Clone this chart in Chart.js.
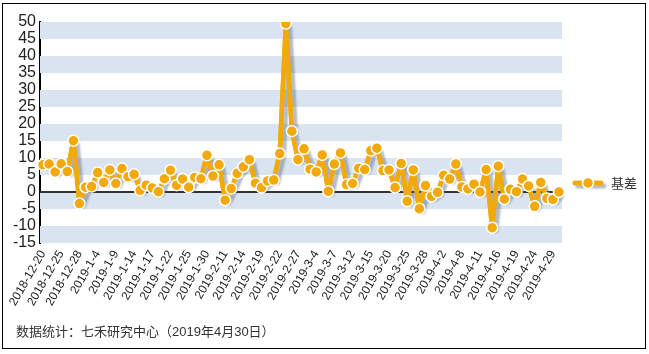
<!DOCTYPE html>
<html><head><meta charset="utf-8">
<script src="https://cdn.jsdelivr.net/npm/chart.js@4"></script>
<style>
html,body{margin:0;padding:0;background:#fff;}
#wrap{position:relative;width:649px;height:354px;}
#frame{position:absolute;left:2px;top:3px;width:644px;height:346px;box-sizing:border-box;border:1px solid #000;pointer-events:none;}
#c{position:absolute;left:0;top:0;}
#caption{position:absolute;left:16px;top:321px;font:13px "Liberation Sans","Noto Sans CJK SC",sans-serif;color:#333;white-space:nowrap;}
</style></head>
<body>
<div id="wrap">
<canvas id="c" width="649" height="354"></canvas>
<div id="frame"></div>
<div id="caption">数据统计：七禾研究中心（2019年4月30日）</div>
</div>
<script>
const dates = [
 '2018-12-20','2018-12-21','2018-12-24','2018-12-25','2018-12-26','2018-12-27','2018-12-28',
 '2019-1-2','2019-1-3','2019-1-4','2019-1-7','2019-1-8','2019-1-9','2019-1-10','2019-1-11','2019-1-14','2019-1-15','2019-1-16','2019-1-17','2019-1-18','2019-1-21','2019-1-22','2019-1-23','2019-1-24','2019-1-25','2019-1-28','2019-1-29','2019-1-30','2019-1-31',
 '2019-2-1','2019-2-11','2019-2-12','2019-2-13','2019-2-14','2019-2-15','2019-2-18','2019-2-19','2019-2-20','2019-2-21','2019-2-22','2019-2-25','2019-2-26','2019-2-27','2019-2-28',
 '2019-3-1','2019-3-4','2019-3-5','2019-3-6','2019-3-7','2019-3-8','2019-3-11','2019-3-12','2019-3-13','2019-3-14','2019-3-15','2019-3-18','2019-3-19','2019-3-20','2019-3-21','2019-3-22','2019-3-25','2019-3-26','2019-3-27','2019-3-28','2019-3-29',
 '2019-4-1','2019-4-2','2019-4-3','2019-4-4','2019-4-8','2019-4-9','2019-4-10','2019-4-11','2019-4-12','2019-4-15','2019-4-16','2019-4-17','2019-4-18','2019-4-19','2019-4-22','2019-4-23','2019-4-24','2019-4-25','2019-4-26','2019-4-29','2019-4-30'
];
const basis = [
 8.0, 8.2, 5.9, 8.3, 6.0, 15.1, -3.4, 1.4, 1.6, 5.7,
 2.8, 6.5, 2.5, 6.9, 4.5, 5.2, 0.5, 2.0, 1.2, 0.1,
 3.9, 6.4, 2.0, 3.8, 1.4, 4.3, 3.9, 10.8, 4.7, 8.0,
 -2.4, 1.0, 5.5, 7.4, 9.5, 2.6, 1.3, 3.2, 3.5, 11.3,
 49.5, 17.9, 9.5, 12.7, 6.7, 5.9, 10.9, 0.2, 8.2, 11.5,
 2.2, 2.5, 7.0, 6.6, 12.2, 12.9, 6.3, 6.5, 1.3, 8.4,
 -2.7, 6.5, -4.9, 1.9, -1.3, -0.1, 4.9, 3.8, 8.2, 1.5,
 0.9, 2.3, 0.0, 6.6, -10.5, 7.6, -2.1, 0.8, 0.1, 3.8,
 1.8, -4.2, 2.8, -1.9, -2.2, 0.0
];
const seriesName = '基差';
const yMin = -15, yMax = 50, yStep = 5;
const labelEvery = 3;

const ORANGE = '#f2a90c';
const BAND = '#d9e4f0';
const TEXT = '#222';

const bandsPlugin = {
  id: 'bands',
  beforeDatasetsDraw(chart) {
    const {ctx, chartArea, scales: {y}} = chart;
    ctx.save();
    ctx.fillStyle = BAND;
    for (let v = yMax; v > yMin; v -= 2 * yStep) {
      const t = y.getPixelForValue(v), b = y.getPixelForValue(v - yStep);
      ctx.fillRect(chartArea.left, t, chartArea.right - chartArea.left, b - t);
    }
    const z = y.getPixelForValue(0);
    ctx.strokeStyle = '#333';
    ctx.lineWidth = 2;
    ctx.beginPath();
    ctx.moveTo(chartArea.left, z);
    ctx.lineTo(chartArea.right, z);
    ctx.stroke();
    ctx.restore();
  }
};

const shadowPlugin = {
  id: 'shadow',
  beforeDatasetDraw(chart, args) {
    if (args.index === 1) {
      const ctx = chart.ctx;
      ctx.save();
      ctx.shadowColor = 'rgba(90,105,125,0.45)';
      ctx.shadowOffsetX = 4;
      ctx.shadowOffsetY = 3;
      ctx.shadowBlur = 2;
    }
  },
  afterDatasetDraw(chart, args) {
    if (args.index === 1) chart.ctx.restore();
  }
};

const legendPlugin = {
  id: 'customLegend',
  afterDraw(chart) {
    const {ctx, chartArea} = chart;
    const ds = chart.data.datasets[0];
    const x0 = chartArea.right + 13, yc = 183;
    ctx.save();
    ctx.shadowColor = 'rgba(90,105,125,0.45)';
    ctx.shadowOffsetX = 3; ctx.shadowOffsetY = 3; ctx.shadowBlur = 2;
    ctx.strokeStyle = ds.borderColor; ctx.lineWidth = 5; ctx.lineCap = 'round';
    ctx.beginPath(); ctx.moveTo(x0, yc); ctx.lineTo(x0 + 26, yc); ctx.stroke();
    ctx.restore();
    ctx.save();
    ctx.fillStyle = ds.pointBackgroundColor; ctx.strokeStyle = '#fff'; ctx.lineWidth = 1.5;
    ctx.beginPath(); ctx.arc(x0 + 13, yc, 5.5, 0, Math.PI * 2); ctx.fill(); ctx.stroke();
    ctx.fillStyle = '#333';
    ctx.font = '13px "Noto Sans CJK SC", sans-serif';
    ctx.textBaseline = 'middle';
    ctx.fillText(ds.label, x0 + 36, yc);
    ctx.restore();
  }
};

new Chart(document.getElementById('c'), {
  type: 'line',
  data: {
    labels: dates,
    datasets: [
      {
        label: seriesName, data: basis,
        borderColor: ORANGE, borderWidth: 4.5, borderJoinStyle: 'round', borderCapStyle: 'round',
        pointBackgroundColor: ORANGE, pointBorderColor: '#fff',
        pointBorderWidth: 1.5, pointRadius: 5.5, tension: 0
      },
      {
        label: seriesName + '_shadow', data: basis,
        borderColor: ORANGE, borderWidth: 4.5, borderJoinStyle: 'round', borderCapStyle: 'round',
        pointRadius: 0, tension: 0
      }
    ]
  },
  options: {
    responsive: false,
    animation: false,
    events: [],
    layout: { padding: { left: 0, top: 22, right: 87, bottom: 0 } },
    plugins: { legend: { display: false }, tooltip: { enabled: false } },
    scales: {
      x: {
        offset: true,
        grid: { display: false, drawTicks: false },
        border: { display: false },
        afterFit(s) { s.height = 111; },
        ticks: {
          autoSkip: false, maxRotation: 60, minRotation: 60, padding: 5,
          color: TEXT, font: { family: '"Liberation Sans", Arial', size: 12 },
          callback(v, i) { return i % labelEvery === 0 ? dates[i] : ''; }
        }
      },
      y: {
        min: yMin, max: yMax,
        afterFit(s) { s.width = 40; },
        grid: { display: false, drawTicks: false },
        border: { display: true, color: '#000', width: 2 },
        ticks: {
          autoSkip: false, stepSize: yStep, padding: 4, color: TEXT,
          font: { family: '"Liberation Sans", Arial', size: 16 }
        }
      }
    }
  },
  plugins: [bandsPlugin, shadowPlugin, legendPlugin]
});
</script>
</body></html>
